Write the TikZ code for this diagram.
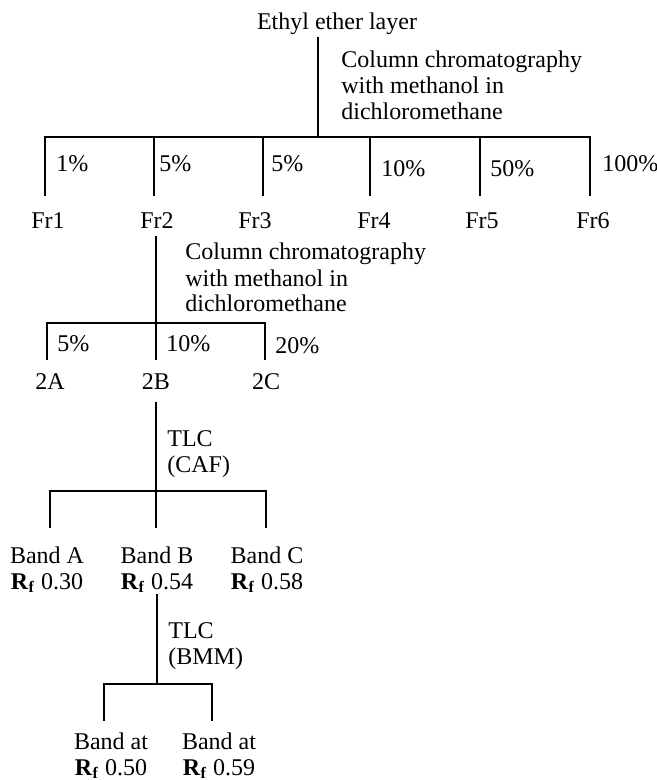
\documentclass[tikz,border=0pt]{standalone}
\usepackage{fontspec}
\setmainfont{Liberation Serif}
\newcommand{\Rf}{\textbf{R}\textsubscript{\textbf{f}}}
\tikzset{
  lbl/.style={inner sep=1pt,anchor=base,align=center},
  note/.style={inner sep=0pt,anchor=base west,align=left},
  pct/.style={inner sep=0pt,anchor=base west},
  bar/.style={line width=1pt},
}
\begin{document}
\begin{tikzpicture}[x=0.5pt,y=-0.5pt,line cap=rect,font=\fontsize{12}{13}\selectfont]
  \useasboundingbox (0,0) rectangle (657,780);
  % ethyl ether layer -> Fr1..Fr6
  \node[lbl] (root) at (337,30) {Ethyl ether layer};
  \coordinate (j1) at (318,137);
  \node[note] (col1) at (341,120) {Column chromatography\\with methanol in\\dichloromethane};
  \coordinate (t1) at (45,137);
  \coordinate (t2) at (154,137);
  \coordinate (t3) at (263,137);
  \coordinate (t4) at (370,137);
  \coordinate (t5) at (480,137);
  \coordinate (t6) at (590,137);
  \node[pct] (p1) at (56,172) {1\%};
  \node[pct] (p2) at (159,172) {5\%};
  \node[pct] (p3) at (271,172) {5\%};
  \node[pct] (p4) at (381,177) {10\%};
  \node[pct] (p5) at (490,177) {50\%};
  \node[pct] (p6) at (602,172) {100\%};
  \node[lbl] (f1) at (48,229) {Fr1};
  \node[lbl] (f2) at (157,229) {Fr2};
  \node[lbl] (f3) at (255,229) {Fr3};
  \node[lbl] (f4) at (374,229) {Fr4};
  \node[lbl] (f5) at (482,229) {Fr5};
  \node[lbl] (f6) at (593,229) {Fr6};
  \draw[bar] (root.south -| j1) -- (j1);
  \draw[bar] (t1) -- (t6);
  \foreach \i in {1,...,6}
    \draw[bar,shorten >=8pt] (t\i) -- (t\i |- f\i.north);
  % Fr2 -> 2A, 2B, 2C
  \coordinate (j2) at (156,323);
  \node[note] (col2) at (185,312) {Column chromatography\\with methanol in\\dichloromethane};
  \coordinate (s1) at (47,323);
  \coordinate (s2) at (156,323);
  \coordinate (s3) at (265,323);
  \node[pct] (q1) at (57,351) {5\%};
  \node[pct] (q2) at (166,351) {10\%};
  \node[pct] (q3) at (275,353) {20\%};
  \node[lbl] (n1) at (50,389) {2A};
  \node[lbl] (n2) at (156,389) {2B};
  \node[lbl] (n3) at (266,389) {2C};
  \draw[bar,shorten <=3pt] (f2.south -| j2) -- (j2);
  \draw[bar] (s1) -- (s3);
  \foreach \i in {1,2,3}
    \draw[bar,shorten >=6pt] (s\i) -- (s\i |- n\i.north);
  % 2B -> bands A, B, C
  \coordinate (j3) at (156,491);
  \node[note] (tlc1) at (167,472) {TLC\\(CAF)};
  \coordinate (u1) at (50,491);
  \coordinate (u2) at (156,491);
  \coordinate (u3) at (266,491);
  \node[lbl] (b1) at (47,589) {Band A\\\Rf\ 0.30};
  \node[lbl] (b2) at (157,589) {Band B\\\Rf\ 0.54};
  \node[lbl] (b3) at (267,589) {Band C\\\Rf\ 0.58};
  \draw[bar,shorten <=6pt] (n2.south -| j3) -- (j3);
  \draw[bar] (u1) -- (u3);
  \foreach \i in {1,2,3}
    \draw[bar,shorten >=8.5pt] (u\i) -- (u\i |- b\i.north);
  % band B -> two bands
  \coordinate (j4) at (157,684);
  \node[note] (tlc2) at (168,664) {TLC\\(BMM)};
  \coordinate (v1) at (104,684);
  \coordinate (v2) at (212,684);
  \node[lbl] (r1) at (111,775) {Band at\\\Rf\ 0.50};
  \node[lbl] (r2) at (219,775) {Band at\\\Rf\ 0.59};
  \draw[bar] (b2.south -| j4) -- (j4);
  \draw[bar] (v1) -- (v2);
  \foreach \i in {1,2}
    \draw[bar,shorten >=5pt] (v\i) -- (v\i |- r\i.north);
\end{tikzpicture}
\end{document}
